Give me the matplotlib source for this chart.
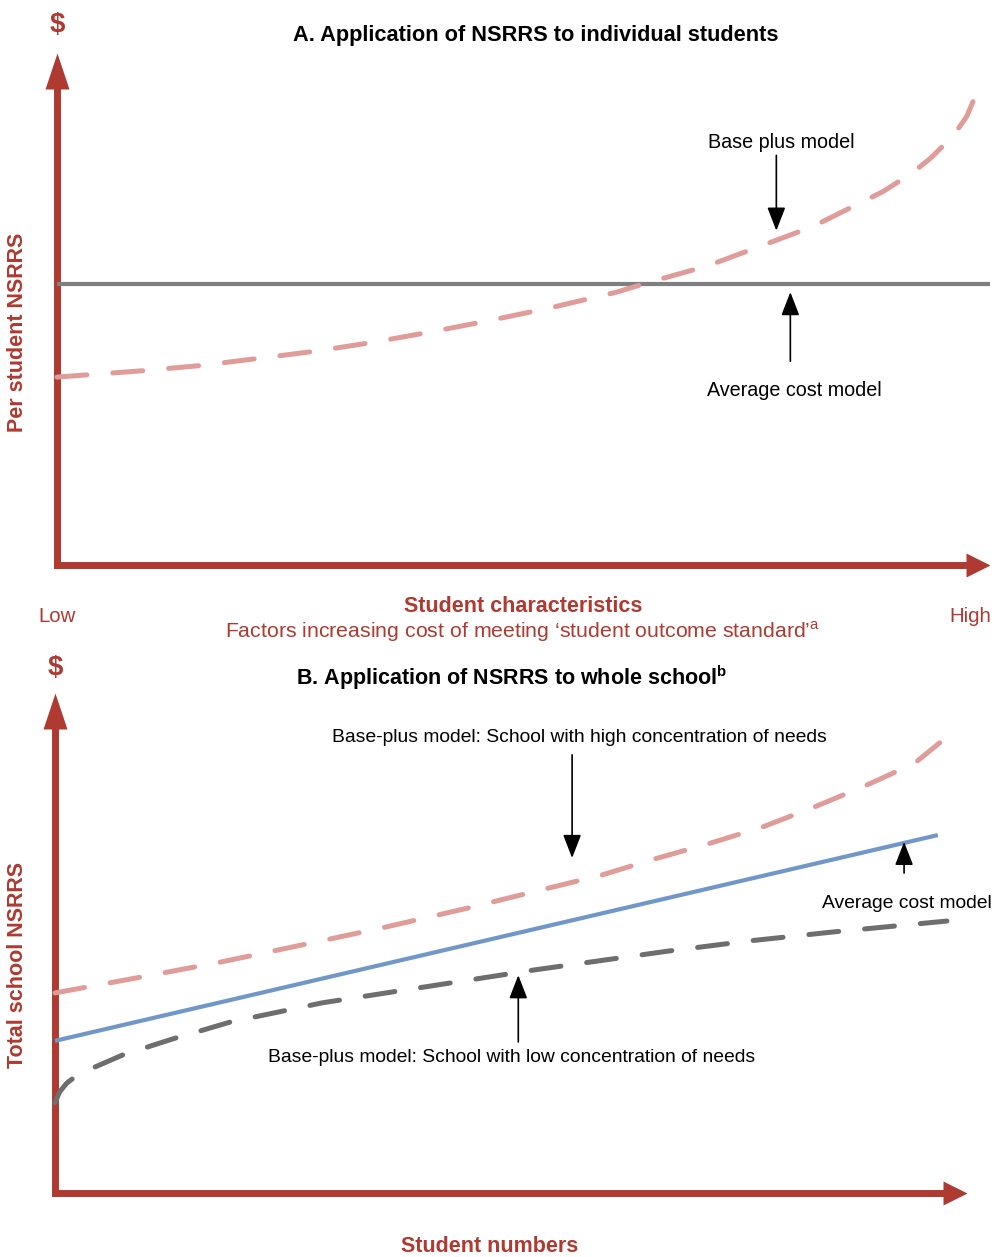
import matplotlib
matplotlib.use("Agg")
import matplotlib.pyplot as plt

plt.rcParams['font.family'] = ['Liberation Sans', 'DejaVu Sans']
plt.rcParams['mathtext.fontset'] = 'custom'
plt.rcParams['mathtext.rm'] = 'Liberation Sans'
plt.rcParams['mathtext.bf'] = 'Liberation Sans:bold'

# ---- data (index units 0-100) ----
# Panel A: per student NSRRS vs student characteristics (Low -> High)
a_char = [0, 9.6, 15.6, 21.8, 27.9, 33.9, 40.0, 45.7, 52.8, 60.0, 63.6, 69.7,
          75.3, 81.0, 86.4, 88.5, 91.6, 93.6, 96.1, 97.5, 98.2, 98.6]
a_base_plus = [36.7, 38.0, 39.0, 40.4, 41.8, 43.5, 45.5, 47.5, 50.2, 53.3, 55.3, 58.4,
               62.2, 66.1, 71.0, 72.9, 76.5, 79.4, 83.9, 87.6, 90.6, 93.9]
a_avg_x = [0, 100]
a_avg = [54.9, 54.9]

# Panel B: total school NSRRS vs student numbers
b_high_x = [0, 9.6, 18.1, 27.6, 35.9, 45.3, 53.6, 59.9, 65.7, 71.6, 77.5, 83.0,
            88.5, 91.4, 94.4, 97.0]
b_high = [38.4, 41.5, 44.3, 47.8, 50.9, 54.7, 58.3, 61.0, 64.1, 67.0, 70.2, 73.9,
          77.9, 80.2, 82.7, 86.4]
b_avg_x = [0, 96.8]
b_avg = [29.2, 68.7]
b_low_x = [0, 0.5, 1.3, 2.2, 4.4, 7.7, 10.1, 13.5, 15.9, 19.2, 29.3, 43.3, 52.5,
           67.1, 76.2, 85.3, 97.8]
b_low = [17.3, 19.4, 21.1, 22.3, 24.2, 26.7, 28.0, 29.9, 31.1, 32.8, 36.5, 40.3, 42.8,
         46.4, 48.4, 50.1, 52.2]

RED = '#ae3a31'
PINK = '#e09c98'
GREY = '#7f7f7f'
DGREY = '#6e6e6e'
BLUE = '#7097c8'

W, H = 994, 1257
fig = plt.figure(figsize=(W / 100, H / 100), dpi=100)

# arrow head shapes (pointing right / up)
HEAD_X = [(-0.5, -0.5), (-0.5, 0.5), (0.5, 0), (-0.5, -0.5)]
HEAD_Y = [(-1 / 3, -0.5), (1 / 3, -0.5), (0, 0.5), (-1 / 3, -0.5)]


def px(x, y):
    return x / W, 1 - y / H


def make_axes(x0, y0, x1, y1, ytip):
    """axes box in pixels; ytip = pixel row of the y arrow tip"""
    ax = fig.add_axes([x0 / W, 1 - y0 / H, (x1 - x0) / W, (y0 - y1) / H])
    ax.set_xlim(0, 100)
    ax.set_ylim(0, 100)
    ax.axis('off')
    wpx, hpx = x1 - x0, y0 - y1
    ty = (y0 - ytip) / hpx
    # x arrow: head 24 px long
    ax.plot([0, 1 - 20 / wpx], [0, 0], transform=ax.transAxes, color=RED, lw=5,
            solid_capstyle='projecting', clip_on=False)
    ax.plot([1 - 12 / wpx], [0], transform=ax.transAxes, marker=HEAD_X,
            markersize=24 * 0.72, color=RED, mew=0, clip_on=False)
    # y arrow: head 36 px long
    ax.plot([0, 0], [0, ty - 30 / hpx], transform=ax.transAxes, color=RED, lw=5,
            solid_capstyle='projecting', clip_on=False)
    ax.plot([0], [ty - 18 / hpx], transform=ax.transAxes, marker=HEAD_Y,
            markersize=36 * 0.72, color=RED, mew=0, clip_on=False)
    return ax


def pointer(ax, xy_from, xy_to):
    ax.annotate('', xy=xy_to, xytext=xy_from,
                arrowprops=dict(arrowstyle='-|>,head_length=0.9,head_width=0.35',
                                mutation_scale=16, lw=1.2, color='black',
                                shrinkA=0, shrinkB=0))


dash = (6.0, 5.2)

# ---------- Panel A ----------
axA = make_axes(57, 565, 990, 53, 53)
axA.plot(a_avg_x, a_avg, color=GREY, lw=3, solid_capstyle='butt', clip_on=False)
axA.plot(a_char, a_base_plus, color=PINK, lw=3.6, dashes=dash,
         dash_capstyle='round', clip_on=False)
pointer(axA, (77.1, 80.0), (77.1, 65.3))
pointer(axA, (78.6, 39.8), (78.6, 53.3))

fig.text(*px(536, 36), 'A. Application of NSRRS to individual students',
         ha='center', va='center', fontsize=15.7, fontweight='bold')
fig.text(*px(57, 25), '$', ha='center', va='center', fontsize=20,
         fontweight='bold', color=RED)
fig.text(*px(18, 332), 'Per student NSRRS', rotation=90, ha='center', va='center',
         fontsize=15.5, fontweight='bold', color=RED)
fig.text(*px(781, 143), 'Base plus model', ha='center', va='center', fontsize=14.2)
fig.text(*px(794, 391), 'Average cost model', ha='center', va='center', fontsize=14.2)
fig.text(*px(57, 617), 'Low', ha='center', va='center', fontsize=14.7, color=RED)
fig.text(*px(970, 617), 'High', ha='center', va='center', fontsize=14.7, color=RED)
fig.text(*px(523, 606), 'Student characteristics', ha='center', va='center',
         fontsize=15.5, fontweight='bold', color=RED)
fig.text(*px(523, 632), 'Factors increasing cost of meeting ‘student outcome standard’$^{\\mathrm{a}}$',
         ha='center', va='center', fontsize=15.3, color=RED)

# ---------- Panel B ----------
axB = make_axes(55, 1193, 967, 672, 693)
axB.plot(b_avg_x, b_avg, color=BLUE, lw=3, solid_capstyle='butt', clip_on=False)
axB.plot(b_high_x, b_high, color=PINK, lw=3.6, dashes=dash,
         dash_capstyle='round', clip_on=False)
axB.plot(b_low_x, b_low, color=DGREY, lw=3.6, dashes=dash,
         dash_capstyle='round', clip_on=False)
pointer(axB, (56.7, 84.1), (56.7, 64.3))
pointer(axB, (93.1, 61.4), (93.1, 67.4))
pointer(axB, (50.8, 29.0), (50.8, 41.8))

fig.text(*px(55, 668), '$', ha='center', va='center', fontsize=20,
         fontweight='bold', color=RED)
fig.text(*px(512, 678), 'B. Application of NSRRS to whole school$^{\\mathbf{b}}$',
         ha='center', va='center', fontsize=15.5, fontweight='bold')
fig.text(*px(18, 965), 'Total school NSRRS', rotation=90, ha='center', va='center',
         fontsize=15.5, fontweight='bold', color=RED)
fig.text(*px(579, 738), 'Base-plus model: School with high concentration of needs',
         ha='center', va='center', fontsize=13.9)
fig.text(*px(822, 904), 'Average cost model', ha='left', va='center', fontsize=13.9)
fig.text(*px(512, 1058), 'Base-plus model: School with low concentration of needs',
         ha='center', va='center', fontsize=13.9)
fig.text(*px(490, 1247), 'Student numbers', ha='center', va='center',
         fontsize=15.5, fontweight='bold', color=RED)

fig.savefig('out.png', dpi=100)
